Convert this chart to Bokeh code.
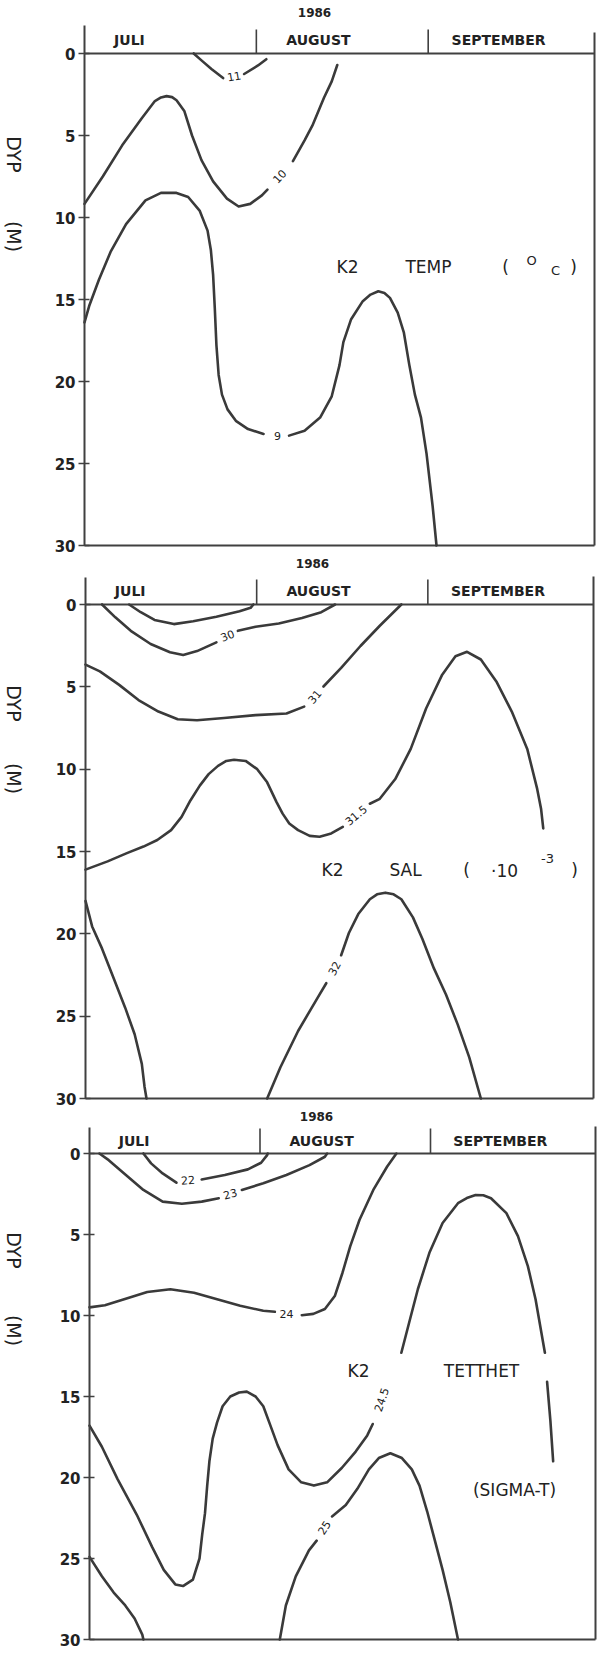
from bokeh.plotting import figure
from bokeh.models import Range1d, FixedTicker, Label, LinearAxis
from bokeh.layouts import column
from bokeh.embed import file_html
from bokeh.resources import INLINE
from bokeh.core.properties import value

NaN = float("nan")

# ---------------- data (x = days since 1 July 1986, y = depth in m) ----------------
YEAR = "1986"
MONTHS = ["JULI", "AUGUST", "SEPTEMBER"]
MONTH_START_DAY = [0, 31, 62]
MONTH_LABEL_DAY = [8.1, 42.2, 74.7]
PERIOD_END_DAY = 92
DEPTH_TICKS = [0, 5, 10, 15, 20, 25, 30]
DEPTH_MAX = 30
Y_LABEL_WORDS = ["DYP", "(M)"]

# Temperature (deg C)
TEMP_11_DAY = [19.7, 21.1, 22.9, 25.0, NaN, 28.8, 31.3, 32.8]
TEMP_11_DEPTH = [0.0, 0.42, 0.94, 1.5, NaN, 1.25, 0.73, 0.35]
TEMP_10_DAY = [0.0, 3.3, 6.8, 10.3, 12.7, 13.8, 14.8, 15.8, 16.6, 18.0, 19.4, 21.1, 23.2, 25.7,
               27.8, 29.9, 32.0, 33.0, NaN, 37.6, 39.7, 41.1, 43.2, 44.6, 45.6]
TEMP_10_DEPTH = [9.17, 7.5, 5.6, 3.96, 2.9, 2.68, 2.6, 2.66, 2.85, 3.5, 5.0, 6.5, 7.8, 8.85,
                 9.33, 9.17, 8.65, 8.3, NaN, 6.56, 5.3, 4.4, 2.7, 1.7, 0.7]
TEMP_9_DAY = [0.0, 0.84, 2.6, 4.7, 7.5, 11.0, 13.8, 16.6, 18.7, 20.8, 22.2, 22.8, 23.2, 23.5,
              23.8, 24.2, 24.8, 25.8, 27.3, 29.5, 32.3, NaN, 36.9, 39.7, 42.5, 44.6, 46.0, 46.7,
              48.1, 50.2, 51.6, 53.0, 54.1, 55.1, 56.5, 57.6, 58.6, 59.6, 60.7, 61.7, 62.8, 63.5]
TEMP_9_DEPTH = [16.4, 15.4, 13.8, 12.1, 10.4, 8.96, 8.5, 8.5, 8.75, 9.6, 10.8, 12.0, 13.5, 15.5,
                17.8, 19.6, 20.8, 21.7, 22.4, 22.9, 23.2, NaN, 23.3, 23.0, 22.2, 20.9, 19.0, 17.6,
                16.2, 15.1, 14.7, 14.5, 14.6, 14.9, 15.8, 17.0, 19.0, 20.8, 22.2, 24.4, 27.6, 30.0]
TEMP_LABELS = ["11", "10", "9"]
TEMP_LABEL_DAY = [27.0, 35.2, 34.8]
TEMP_LABEL_DEPTH = [1.4, 7.5, 23.3]
TEMP_LABEL_ANGLE = [10, 47, 0]

# Salinity (10^-3)
SAL_295_DAY = [7.9, 10.0, 12.5, 16.0, 19.5, 23.7, 27.9, 29.9, 30.4]
SAL_295_DEPTH = [0.0, 0.47, 0.94, 1.19, 1.02, 0.74, 0.41, 0.2, 0.0]
SAL_30_DAY = [3.0, 5.4, 8.2, 11.8, 15.3, 17.7, 20.2, 23.7, NaN, 27.6, 30.8, 35.0, 39.2, 42.7, 45.2]
SAL_30_DEPTH = [0.0, 0.78, 1.6, 2.4, 2.9, 3.07, 2.83, 2.3, NaN, 1.6, 1.35, 1.15, 0.82, 0.47, 0.0]
SAL_31_DAY = [0.0, 2.6, 6.1, 9.6, 13.2, 16.7, 20.2, 25.1, 30.8, 36.4, 39.6, NaN,
              43.1, 46.3, 49.8, 53.3, 57.2]
SAL_31_DEPTH = [3.65, 4.06, 4.88, 5.8, 6.5, 6.97, 7.03, 6.89, 6.72, 6.62, 6.2, NaN,
                4.98, 3.85, 2.52, 1.29, 0.0]
SAL_315_DAY = [0.0, 4.0, 7.5, 10.5, 13.0, 15.5, 17.4, 19.0, 20.7, 22.3, 24.0, 25.5, 26.9, 29.0,
               31.1, 32.9, 34.6, 35.7, 36.9, 38.5, 40.6, 42.4, 44.5, 46.6, NaN, 51.5, 53.3, 56.1,
               58.9, 61.7, 64.6, 67.0, 69.1, 71.6, 74.4, 77.2, 80.0, 81.8, 82.5, 82.9]
SAL_315_DEPTH = [16.1, 15.6, 15.1, 14.7, 14.3, 13.7, 12.9, 11.9, 11.0, 10.3, 9.8, 9.5, 9.43, 9.5,
                 10.0, 10.8, 12.0, 12.7, 13.3, 13.7, 14.05, 14.1, 13.9, 13.5, NaN, 12.1, 11.8, 10.6,
                 8.77, 6.3, 4.26, 3.14, 2.87, 3.34, 4.67, 6.5, 8.77, 11.2, 12.4, 13.6]
SAL_32A_DAY = [0.0, 1.2, 3.0, 5.1, 7.2, 8.9, 10.2, 10.7, 11.05]
SAL_32A_DEPTH = [18.0, 19.55, 20.9, 22.7, 24.5, 26.1, 27.9, 29.3, 30.0]
SAL_32B_DAY = [32.9, 35.3, 38.5, 42.0, 43.6, NaN, 46.3, 47.7, 49.4, 51.5, 52.8, 54.3, 55.8, 57.2,
               59.3, 61.0, 63.1, 65.3, 67.4, 69.5, 71.6]
SAL_32B_DEPTH = [30.0, 28.1, 25.9, 23.9, 23.0, NaN, 21.3, 19.95, 18.8, 17.9, 17.6, 17.5, 17.6, 17.9,
                 19.0, 20.3, 22.1, 23.7, 25.5, 27.5, 30.0]
SAL_LABELS = ["30", "31", "31.5", "32"]
SAL_LABEL_DAY = [25.7, 41.5, 49.0, 45.1]
SAL_LABEL_DEPTH = [1.9, 5.6, 12.8, 22.1]
SAL_LABEL_ANGLE = [22, 50, 40, 62]

# Density (sigma-t)
DENS_22_DAY = [9.8, 11.2, 13.3, 15.8, NaN, 20.4, 24.6, 28.8, 31.2, 32.3, 32.4]
DENS_22_DEPTH = [0.0, 0.61, 1.23, 1.8, NaN, 1.6, 1.33, 0.98, 0.57, 0.1, 0.0]
DENS_23_DAY = [1.8, 3.5, 6.3, 9.8, 13.3, 16.8, 20.4, 23.5, NaN, 27.7, 31.6, 35.8, 40.0, 42.8, 43.2]
DENS_23_DEPTH = [0.0, 0.41, 1.23, 2.25, 2.97, 3.1, 2.97, 2.76, NaN, 2.25, 1.84, 1.33, 0.72, 0.2, 0.0]
DENS_24_DAY = [0.0, 2.8, 6.3, 10.5, 14.7, 19.0, 23.2, 27.4, 31.6, 33.7, NaN, 38.6, 40.7, 42.8,
               44.6, 46.0, 47.4, 49.1, 51.6, 54.1, 55.8]
DENS_24_DEPTH = [9.5, 9.37, 9.0, 8.55, 8.38, 8.6, 9.0, 9.4, 9.71, 9.77, NaN, 9.98, 9.9, 9.6,
                 8.8, 7.36, 5.73, 4.09, 2.25, 0.82, 0.0]
DENS_245_DAY = [0.0, 2.25, 5.1, 8.6, 11.4, 13.5, 15.6, 17.0, 18.8, 20.0, 20.5, 21.0, 21.4, 21.8,
                22.4, 23.2, 24.2, 25.6, 27.2, 28.6, 30.2, 31.6, 32.9, 34.2, 36.2, 38.5, 40.8,
                43.2, 45.9, 48.4, 50.5, 51.5, NaN, 54.3, NaN, 56.7, 58.3, 59.7, 61.8, 64.2, 67.0,
                68.6, 70.2, 71.6, 73.0, 75.8, 77.9, 79.7, 81.1, 82.8, NaN, 83.2, 83.8, 84.3]
DENS_245_DEPTH = [16.8, 18.1, 20.1, 22.3, 24.3, 25.7, 26.6, 26.7, 26.3, 25.0, 23.5, 22.2, 20.5,
                  19.0, 17.6, 16.6, 15.6, 15.0, 14.75, 14.7, 15.0, 15.6, 16.8, 18.0, 19.5, 20.3,
                  20.5, 20.3, 19.4, 18.4, 17.4, 16.7, NaN, 14.1, NaN, 12.3, 10.2, 8.38, 6.13, 4.29,
                  3.07, 2.75, 2.56, 2.58, 2.76, 3.68, 5.1, 6.95, 9.0, 12.3, NaN, 14.1, 16.5, 19.0]
DENS_25A_DAY = [0.0, 2.25, 4.4, 6.5, 8.2, 9.6, 9.8]
DENS_25A_DEPTH = [24.9, 26.1, 27.1, 27.9, 28.7, 29.7, 30.0]
DENS_25B_DAY = [34.6, 35.7, 37.5, 39.9, 41.3, NaN, 44.1, 46.6, 48.7, 50.8, 52.6, 54.7, 56.8,
                58.6, 60.0, 61.4, 62.8, 64.2, 65.6, 67.0]
DENS_25B_DEPTH = [30.0, 27.9, 26.1, 24.5, 23.9, NaN, 22.4, 21.7, 20.7, 19.5, 18.8, 18.5, 18.8,
                  19.5, 20.5, 22.1, 23.9, 25.7, 27.7, 30.0]
DENS_LABELS = ["22", "23", "24", "24.5", "25"]
DENS_LABEL_DAY = [17.9, 25.6, 35.8, 53.1, 42.7]
DENS_LABEL_DEPTH = [1.65, 2.5, 9.9, 15.2, 23.1]
DENS_LABEL_ANGLE = [4, 15, 0, 72, 58]

# ---------------- styling / layout ----------------
FONT = "DejaVu Sans"
LINE_COLOR = "#3a3a3a"
AXIS_COLOR = "#404040"
TEXT_COLOR = "#222222"
PAGE_W = 606
PAGE_MARGIN = 8


def make_panel(cfg, contours, labels, title_parts):
    left, right = cfg["left"], cfg["right"]
    y0, y30 = cfg["y0"], cfg["y30"]
    fig_top, fig_h = cfg["fig_top"], cfg["fig_h"]
    fig_bottom = fig_top + fig_h
    ppd = (right - left) / PERIOD_END_DAY
    ppm = (y30 - y0) / DEPTH_MAX

    def dx(px):
        return (px - left) / ppd

    def dy(py):
        return (py - y0) / ppm

    # the frame covers the whole canvas, so that outside texts are not clipped
    p = figure(width=PAGE_W - PAGE_MARGIN, height=fig_h, output_backend="svg",
               toolbar_location=None,
               x_range=Range1d(dx(PAGE_MARGIN), dx(PAGE_W)),
               y_range=Range1d(dy(fig_bottom), dy(fig_top)),
               min_border_left=0, min_border_right=0, min_border_top=0, min_border_bottom=0,
               x_axis_location=None, y_axis_location=None)
    p.grid.visible = False
    p.outline_line_color = None
    p.background_fill_color = "white"
    p.border_fill_color = "white"

    top_depth = dy(cfg["axis_top"])
    ax = LinearAxis(fixed_location=0, bounds=(top_depth, DEPTH_MAX),
                    ticker=FixedTicker(ticks=DEPTH_TICKS))
    ax.minor_tick_line_color = None
    ax.major_tick_in = 5
    ax.major_tick_out = 6
    ax.axis_line_width = 2
    ax.axis_line_color = AXIS_COLOR
    ax.major_tick_line_width = 1.5
    ax.major_tick_line_color = AXIS_COLOR
    ax.major_label_text_font = FONT
    ax.major_label_text_font_size = "15px"
    ax.major_label_text_font_style = "bold"
    ax.major_label_text_color = TEXT_COLOR
    ax.major_label_standoff = 3
    p.add_layout(ax, "left")

    # frame lines: depth 0 line, bottom, right border, month dividers
    p.segment(x0=[0, 0], y0=[0, DEPTH_MAX], x1=[PERIOD_END_DAY, PERIOD_END_DAY],
              y1=[0, DEPTH_MAX], line_color=AXIS_COLOR, line_width=2)
    p.segment(x0=[PERIOD_END_DAY], y0=[dy(cfg["right_top"])], x1=[PERIOD_END_DAY],
              y1=[DEPTH_MAX], line_color=AXIS_COLOR, line_width=2)
    div_days = MONTH_START_DAY[1:]
    p.segment(x0=div_days, y0=[0] * len(div_days), x1=div_days,
              y1=[dy(cfg["div_top"])] * len(div_days), line_color=AXIS_COLOR, line_width=1.6)
    p.text(x=MONTH_LABEL_DAY, y=[dy(cfg["month_y"])] * len(MONTHS), text=MONTHS,
           text_font=value(FONT), text_font_size=value("14px"), text_font_style="bold",
           text_color=TEXT_COLOR, text_align="center", text_baseline="middle")

    p.add_layout(Label(x=dx(cfg["year_x"]), y=dy(cfg["year_y"]), text=YEAR,
                       text_font=FONT, text_font_size="12px", text_font_style="bold",
                       text_color=TEXT_COLOR, text_align="center", text_baseline="middle"))
    for word, py in zip(Y_LABEL_WORDS, cfg["ylab_y"]):
        p.add_layout(Label(x=dx(21), y=dy(py), text=word, angle=-90, angle_units="deg",
                           text_font=FONT, text_font_size="19px",
                           text_color=TEXT_COLOR, text_align="center", text_baseline="middle"))

    for xs, ys in contours:
        p.line(xs, ys, line_color=LINE_COLOR, line_width=2.6, line_join="round", line_cap="round")

    ltext, lx, ly, la = labels
    p.text(x=lx, y=ly, text=ltext, angle=la, angle_units="deg",
           text_font=value(FONT), text_font_size=value("11px"), text_color=TEXT_COLOR,
           text_align="center", text_baseline="middle")

    for txt, px, py, size in title_parts:
        p.add_layout(Label(x=dx(px), y=dy(py), text=txt, text_font=FONT,
                           text_font_size=size, text_color=TEXT_COLOR,
                           text_align="center", text_baseline="middle"))
    return p


cfg1 = dict(fig_top=8, fig_h=556, left=92, right=602, axis_top=33, y0=61, y30=553,
            right_top=40, div_top=37, month_y=47, year_x=322, year_y=20, ylab_y=[162, 244])
cfg2 = dict(fig_top=564, fig_h=552, left=93, right=601, axis_top=585, y0=612, y30=1106,
            right_top=584, div_top=587, month_y=598, year_x=320, year_y=571, ylab_y=[711, 786])
cfg3 = dict(fig_top=1116, fig_h=541, left=97, right=603, axis_top=1135, y0=1161, y30=1647,
            right_top=1134, div_top=1136, month_y=1148, year_x=324, year_y=1124, ylab_y=[1258, 1338])

p1 = make_panel(
    cfg1,
    [(TEMP_11_DAY, TEMP_11_DEPTH), (TEMP_10_DAY, TEMP_10_DEPTH), (TEMP_9_DAY, TEMP_9_DEPTH)],
    (TEMP_LABELS, TEMP_LABEL_DAY, TEMP_LABEL_DEPTH, TEMP_LABEL_ANGLE),
    [("K2", 355, 274, "17px"), ("TEMP", 436, 274, "17px"), ("(", 513, 274, "17px"),
     ("O", 539, 268, "13px"), ("C", 563, 278, "13px"), (")", 581, 274, "17px")])

p2 = make_panel(
    cfg2,
    [(SAL_295_DAY, SAL_295_DEPTH), (SAL_30_DAY, SAL_30_DEPTH), (SAL_31_DAY, SAL_31_DEPTH),
     (SAL_315_DAY, SAL_315_DEPTH), (SAL_32A_DAY, SAL_32A_DEPTH), (SAL_32B_DAY, SAL_32B_DEPTH)],
    (SAL_LABELS, SAL_LABEL_DAY, SAL_LABEL_DEPTH, SAL_LABEL_ANGLE),
    [("K2", 340, 877, "17px"), ("SAL", 413, 877, "17px"), ("(", 474, 877, "17px"),
     ("·10", 512, 878, "17px"), ("-3", 555, 866, "13px"), (")", 582, 877, "17px")])

p3 = make_panel(
    cfg3,
    [(DENS_22_DAY, DENS_22_DEPTH), (DENS_23_DAY, DENS_23_DEPTH), (DENS_24_DAY, DENS_24_DEPTH),
     (DENS_245_DAY, DENS_245_DEPTH), (DENS_25A_DAY, DENS_25A_DEPTH), (DENS_25B_DAY, DENS_25B_DEPTH)],
    (DENS_LABELS, DENS_LABEL_DAY, DENS_LABEL_DEPTH, DENS_LABEL_ANGLE),
    [("K2", 366, 1378, "17px"), ("TETTHET", 489, 1378, "17px"), ("(SIGMA-T)", 522, 1497, "17px")])

layout = column(p1, p2, p3, spacing=0)
open("out.html", "w").write(file_html(layout, INLINE))
